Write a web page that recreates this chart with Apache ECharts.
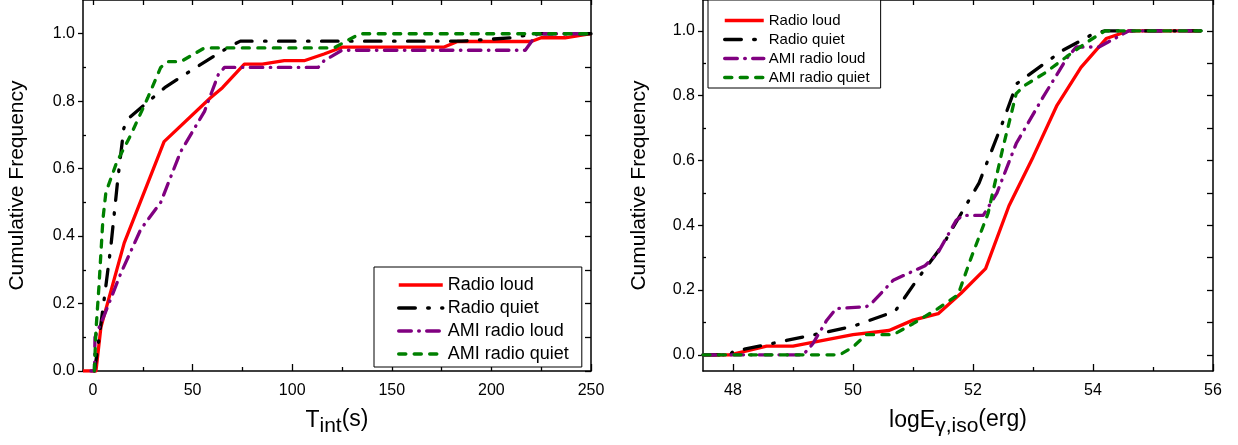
<!DOCTYPE html>
<html><head><meta charset="utf-8">
<script src="https://cdn.jsdelivr.net/npm/echarts@6/dist/echarts.min.js"></script>
<style>html,body{margin:0;padding:0;background:#fff}#c{width:1238px;height:445px}</style>
</head><body><div id="c"></div>
<script>
const seriesNames = ['Radio loud', 'Radio quiet', 'AMI radio loud', 'AMI radio quiet'];

// Left panel: T_int (s) vs cumulative frequency
const tintRadioLoud = [[-5,0],[1.5,0],[4,0.13],[15.7,0.38],[35.7,0.68],[59,0.81],[65,0.84],[76,0.91],[85,0.91],[96,0.92],[106,0.92],[116,0.94],[125,0.96],[176,0.96],[183,0.977],[220,0.977],[225,0.988],[237,0.988],[250,1.0]];
const tintRadioQuiet = [[0.7,0],[2,0.05],[6,0.23],[9,0.37],[12.5,0.57],[15.5,0.72],[18,0.75],[36,0.84],[49,0.89],[68,0.96],[74,0.978],[185,0.978],[210,0.988],[222,1.0],[250,1.0]];
const tintAmiLoud = [[-1,0],[0.8,0],[1,0.1],[6,0.17],[14,0.29],[24,0.42],[34,0.5],[44,0.65],[56,0.77],[63,0.88],[66,0.9],[113,0.9],[116,0.92],[125,0.951],[217,0.951],[223,1.0],[250,1.0]];
const tintAmiQuiet = [[0.7,0],[1.5,0.12],[3,0.25],[5,0.45],[6.5,0.53],[12,0.62],[19,0.7],[27.5,0.81],[34,0.9],[37.5,0.917],[44,0.917],[56,0.958],[121,0.958],[134,1.0],[250,1.0]];

// Right panel: log E_gamma,iso (erg) vs cumulative frequency
const eisoRadioLoud = [[47.5,0],[47.95,0],[48.56,0.027],[49,0.027],[50,0.062],[50.6,0.075],[51,0.107],[51.42,0.127],[51.8,0.19],[52.21,0.266],[52.6,0.46],[53,0.61],[53.4,0.77],[53.8,0.887],[54.22,0.976],[54.6,1.0],[55.8,1.0]];
const eisoRadioQuiet = [[47.5,0],[47.95,0],[48,0.01],[49.3,0.06],[50,0.088],[50.7,0.134],[51.1,0.24],[51.5,0.34],[52.1,0.53],[52.5,0.72],[52.73,0.837],[52.9,0.86],[53.5,0.94],[54,0.99],[54.2,1.0],[55.8,1.0]];
const eisoAmiLoud = [[47.5,0],[49.17,0],[49.33,0.034],[49.56,0.106],[49.72,0.143],[50.22,0.148],[50.33,0.163],[50.67,0.23],[51.2,0.275],[51.4,0.31],[51.72,0.415],[51.83,0.43],[52.17,0.43],[52.4,0.5],[52.72,0.652],[53.17,0.796],[53.56,0.914],[53.72,0.95],[54.1,0.95],[54.6,1.0],[55.8,1.0]];
const eisoAmiQuiet = [[47.5,0],[49.78,0],[50,0.024],[50.22,0.062],[50.67,0.062],[51,0.096],[51.42,0.143],[51.75,0.185],[51.97,0.3],[52.25,0.436],[52.5,0.64],[52.72,0.806],[52.85,0.83],[53.2,0.87],[53.56,0.92],[53.9,0.965],[54.2,1.0],[55.8,1.0]];

// Tick labels
const tintTicks = [0, 50, 100, 150, 200, 250];
const tintMinor = [25, 75, 125, 175, 225];
const eisoTicks = [48, 50, 52, 54, 56];
const eisoMinor = [49, 51, 53, 55];
const freqTicks = [0, 0.2, 0.4, 0.6, 0.8, 1.0];
const freqMinor = [0.1, 0.3, 0.5, 0.7, 0.9];

const FONT = "'Liberation Sans', Arial, Helvetica, sans-serif";
const styles = [
  {color: '#ff0000', type: 'solid', cap: 'butt'},
  {color: '#000000', type: [16.5, 12.5, 1.5, 12.5], cap: 'round'},
  {color: '#800080', type: [12.5, 7.5, 0.5, 7.5], cap: 'round'},
  {color: '#008000', type: [7, 8.5], cap: 'round'}
];

const allT = tintTicks.concat(tintMinor).sort((a,b)=>a-b);
const allE = [48,49,50,51,52,53,54,55,56];
const allF = freqTicks.concat(freqMinor).sort((a,b)=>a-b);

function xAxes(g, min, max, majors, minors, all, name) {
  return [
    {gridIndex: g, type: 'value', min, max, position: 'bottom',
     axisLine: {onZero: false, lineStyle: {color: '#000', width: 1.5}},
     axisTick: {inside: true, length: 7, customValues: majors, lineStyle: {color: '#000', width: 1.3}},
     axisLabel: {customValues: majors, fontSize: 16, color: '#000', margin: 12, fontFamily: FONT},
     splitLine: {show: false},
     name: name, nameLocation: 'middle', nameGap: 30,
     nameTextStyle: {color: '#000', fontFamily: FONT, rich: {
       m: {fontSize: 23, color: '#000', fontFamily: FONT, lineHeight: 26},
       s: {fontSize: 21, color: '#000', fontFamily: FONT, lineHeight: 26, padding: [12, 0, 0, 0]},
       p: {fontSize: 23, color: '#000', fontFamily: FONT, lineHeight: 26, padding: [0, 0, 2, 0]}
     }}},
    {gridIndex: g, type: 'value', min, max, position: 'bottom',
     axisLine: {show: false, onZero: false},
     axisTick: {inside: true, length: 4, customValues: minors, lineStyle: {color: '#000', width: 1.3}},
     axisLabel: {show: false}, splitLine: {show: false}},
    {gridIndex: g, type: 'value', min, max, position: 'top',
     axisLine: {onZero: false, lineStyle: {color: '#000', width: 1.5}},
     axisTick: {inside: true, length: 5, customValues: all, lineStyle: {color: '#000', width: 1.3}},
     axisLabel: {show: false}, splitLine: {show: false}}
  ];
}
function yAxes(g, min, max, gap) {
  return [
    {gridIndex: g, type: 'value', min, max, position: 'left',
     axisLine: {onZero: false, lineStyle: {color: '#000', width: 1.5}},
     axisTick: {inside: false, length: 5, customValues: freqTicks, lineStyle: {color: '#000', width: 1.3}},
     axisLabel: {customValues: freqTicks, fontSize: 16, color: '#000', margin: 8, fontFamily: FONT,
                 formatter: v => Number(v).toFixed(1)},
     splitLine: {show: false},
     name: 'Cumulative Frequency', nameLocation: 'middle', nameGap: gap,
     nameTextStyle: {fontSize: 21, color: '#000', fontFamily: FONT}},
    {gridIndex: g, type: 'value', min, max, position: 'left',
     axisLine: {show: false, onZero: false},
     axisTick: {inside: true, length: 3, customValues: freqMinor, lineStyle: {color: '#000', width: 1.3}},
     axisLabel: {show: false}, splitLine: {show: false}},
    {gridIndex: g, type: 'value', min, max, position: 'right',
     axisLine: {onZero: false, lineStyle: {color: '#000', width: 1.5}},
     axisTick: {inside: true, length: 6, customValues: allF, lineStyle: {color: '#000', width: 1.3}},
     axisLabel: {show: false}, splitLine: {show: false}}
  ];
}

const leftData = [tintRadioLoud, tintRadioQuiet, tintAmiLoud, tintAmiQuiet];
const rightData = [eisoRadioLoud, eisoRadioQuiet, eisoAmiLoud, eisoAmiQuiet];
const series = [];
[leftData, rightData].forEach((set, g) => {
  set.forEach((d, i) => {
    series.push({
      type: 'line', name: seriesNames[i], data: d,
      xAxisIndex: g * 3, yAxisIndex: g * 3,
      showSymbol: false, symbol: 'none', smooth: false,
      lineStyle: {color: styles[i].color, width: 3.3, type: styles[i].type, cap: styles[i].cap, join: 'round'},
      itemStyle: {color: styles[i].color},
      z: 2 + i
    });
  });
});

const legendCommon = {
  orient: 'vertical', data: seriesNames, selectedMode: false,
  borderColor: '#000', borderWidth: 1, backgroundColor: '#fff',
  itemStyle: {opacity: 0, borderWidth: 0},
  lineStyle: {width: 3.5}
};

const chart = echarts.init(document.getElementById('c'), null, {renderer: 'canvas'});
chart.setOption({
  backgroundColor: '#fff',
  animation: false,
  grid: [
    {left: 83, top: 0, width: 508, height: 371},
    {left: 703, top: 0, width: 510, height: 371}
  ],
  xAxis: xAxes(0, -5, 250, tintTicks, tintMinor, allT, '{m|T}{s|int}{p|(s)}')
    .concat(xAxes(1, 47.5, 56, eisoTicks, eisoMinor, allE, '{m|logE}{s|γ,iso}{p|(erg)}')),
  yAxis: yAxes(0, 0, 1.1, 55).concat(yAxes(1, -0.05, 1.095, 53)),
  legend: [
    Object.assign({}, legendCommon, {left: 374, top: 267,
     itemWidth: 44, itemHeight: 14, itemGap: 3, padding: [8, 13, 3, 23],
     textStyle: {fontSize: 18, lineHeight: 20, color: '#000', fontFamily: FONT}}),
    Object.assign({}, legendCommon, {left: 708, top: 0,
     itemWidth: 39, itemHeight: 12, itemGap: 2, padding: [12, 11, 2, 15],
     textStyle: {fontSize: 15, lineHeight: 17, color: '#000', fontFamily: FONT}})
  ],
  series: series
});
</script></body></html>
